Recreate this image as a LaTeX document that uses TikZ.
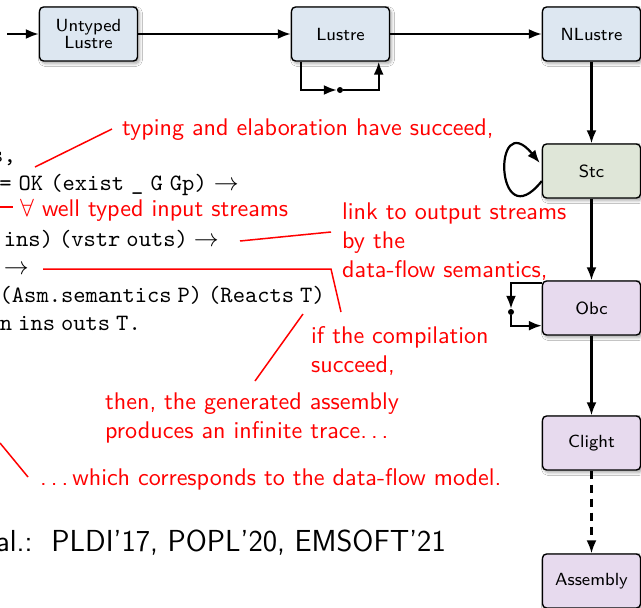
\documentclass[tikz,border=0pt]{standalone}
\usepackage{fontspec}
\usetikzlibrary{arrows.meta,shadows.blur}
\newfontfamily\notesf{lmsans10-regular.otf}
\newfontfamily\boxsf{lmsans8-regular.otf}
\newfontfamily\codett{lmmono10-regular.otf}
\newcommand\spdots{.\kern.1667em.\kern.1667em.\kern.1667em}
\definecolor{lusblue}{HTML}{DDE7F1}
\definecolor{stcgreen}{HTML}{DFE6D8}
\definecolor{obcviolet}{HTML}{E7DAEE}
\definecolor{notered}{HTML}{FF0000}
\tikzset{
  pass/.style={draw=black, line width=1.4pt, rounded corners=4pt,
    minimum width=98pt, minimum height=54pt, align=center, inner sep=0pt,
    font=\fontsize{17.6}{17}\selectfont\boxsf,
    blur shadow={shadow xshift=2pt, shadow yshift=-2.5pt,
      shadow blur steps=6, shadow blur radius=3pt, shadow opacity=35}},
  flow/.style={line width=2.2pt, -{Latex[length=13pt,width=10pt]}},
  joint/.style={circle, fill=black, inner sep=0pt, minimum size=6pt},
  note/.style={text=notered, inner sep=0pt, align=left, anchor=base west,
    font=\fontsize{24.1}{29}\selectfont\notesf},
  code/.style={inner sep=0pt, anchor=base east,
    font=\fontsize{23.4}{28}\selectfont\codett,
    execute at begin node={\spaceskip 6pt\relax}},
  widecode/.style={code, execute at begin node={\spaceskip 7.1pt\relax}},
  pointer/.style={draw=notered, line width=1.5pt},
  cite/.style={inner sep=0pt, anchor=base east,
    font=\fontsize{30.4}{36}\selectfont\sffamily},
}
\begin{document}
\begin{tikzpicture}[x=1pt, y=-1pt]
\useasboundingbox (0,0) rectangle (641,608);
\fill[white] (0,0) rectangle (641,608);
\clip (0,0) rectangle (641,608);

% compiler passes
\node[pass, fill=lusblue]   (ulus)   at (88.5,34)  {Untyped\\Lustre};
\node[pass, fill=lusblue]   (lus)    at (340.5,34) {Lustre};
\node[pass, fill=lusblue]   (nlus)   at (591.5,34) {NLustre};
\node[pass, fill=stcgreen]  (stc)    at (591.5,171) {Stc};
\node[pass, fill=obcviolet] (obc)    at (591.5,308) {Obc};
\node[pass, fill=obcviolet] (clight) at (591.5,443) {Clight};
\node[pass, fill=obcviolet] (asm)    at (591.5,581) {Assembly};

% main pipeline
\coordinate (src) at (7,34);
\draw[flow] (src) -- (ulus);
\draw[flow] (ulus) -- (lus);
\draw[flow] (lus) -- (nlus);
\draw[flow] (nlus) -- (stc);
\draw[flow] (stc) -- (obc);
\draw[flow] (obc) -- (clight);
\draw[flow, dash pattern=on 8pt off 6pt] (clight) -- (asm);

% Lustre to Lustre passes
\node[joint] (ldot) at (340,90) {};
\draw[flow] ([xshift=10pt]lus.south west) |- (ldot);
\draw[flow] (ldot) -| ([xshift=-11.5pt]lus.south east);

% Stc to Stc passes
\draw[flow] ([yshift=-10pt]stc.west) .. controls (495,240) and (492,105) .. ([xshift=-2pt,yshift=8pt]stc.west);

% Obc to Obc passes
\node[joint] (odot) at (511,312) {};
\draw[flow] ([yshift=-3pt]obc.north west) -| (odot);
\draw[flow] (odot) |- ([yshift=10pt]obc.south west);

% correctness theorem
\node[code] (l1) at (16,162)  {s,};
\node[widecode] (l2) at (239,190) {= OK (exist \_ G Gp) $\to$};
\node[code] (l4) at (219,246) {ins) (vstr outs) $\to$};
\node[code] (l5) at (29,274)  {$\to$};
\node[code] (l6) at (325,302) {(Asm.semantics P) (Reacts T)};
\node[code] (l7) at (141,330) {n ins outs T.};

% annotations
\node[note] (n1) at (122,135) {typing and elaboration have succeed,};
\coordinate (p1a) at (35,167);
\coordinate (p1b) at (112,129);
\draw[pointer] (p1a) -- (p1b);

\node[note] (n2) at (20,216) {$\forall$ well typed input streams};
\coordinate (p2a) at (0,207);
\coordinate (p2b) at (13,207);
\draw[pointer] (p2a) -- (p2b);

\node[note] (n3) at (342,277) {link to output streams\\by the\\data-flow semantics,};
\coordinate (p3a) at (240,241);
\coordinate (p3b) at (331,232);
\draw[pointer] (p3a) -- (p3b);

\node[note] (n4) at (311,372) {if the compilation\\succeed,};
\coordinate (p4a) at (43,269);
\coordinate (p4b) at (331,269);
\coordinate (p4c) at (341,312);
\draw[pointer] (p4a) -- (p4b) -- (p4c);

\node[note] (n5) at (105,438) {then, the generated assembly\\produces an infinite trace\spdots};
\coordinate (p5a) at (303,314);
\coordinate (p5b) at (255,381);
\draw[pointer] (p5a) -- (p5b);

\node[note] (n6) at (40,485) {\spdots which corresponds to the data-flow model.};
\coordinate (p6a) at (0,443);
\coordinate (p6b) at (28,477);
\draw[pointer] (p6a) -- (p6b);

% references
\node[cite] (refs) at (446,551) {al.:\ \ PLDI'17, POPL'20, EMSOFT'21};
\end{tikzpicture}
\end{document}
